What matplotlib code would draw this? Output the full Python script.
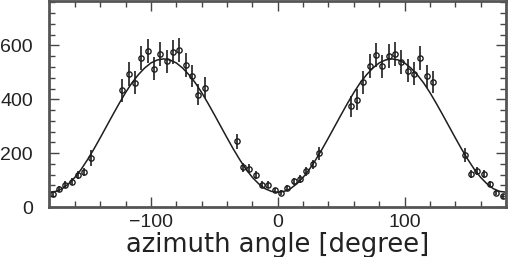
import matplotlib.pyplot as plt
import numpy as np

plt.rcParams['font.family'] = ['Liberation Sans', 'DejaVu Sans']

# measured points (azimuth bin centre, counts, error)
phi = [-177.5, -172.5, -167.5, -162.5, -157.5, -152.5, -147.5,
       -122.5, -117.5, -112.5, -107.5, -102.5, -97.5, -92.5, -87.5, -82.5,
       -77.5, -72.5, -67.5, -62.5, -57.5,
       -32.5, -27.5, -22.5, -17.5, -12.5, -7.5, -2.5, 2.5, 7.5, 12.5,
       17.5, 22.5, 27.5, 32.5,
       57.5, 62.5, 67.5, 72.5, 77.5, 82.5, 87.5, 92.5, 97.5, 102.5,
       107.5, 112.5, 117.5, 122.5,
       147.5, 152.5, 157.5, 162.5, 167.5, 172.5, 177.5]
counts = [47, 68, 83, 93, 118, 130, 182,
          433, 495, 462, 554, 578, 514, 569, 541, 575,
          584, 528, 486, 417, 443,
          244, 148, 142, 120, 83, 83, 62, 53, 71, 96,
          103, 132, 158, 200,
          374, 399, 463, 523, 564, 522, 560, 567, 538, 506,
          495, 552, 485, 464,
          193, 122, 134, 124, 85, 53, 40]
errors = [10, 11, 12, 13, 15, 16, 28,
          43, 45, 42, 45, 45, 42, 45, 43, 45,
          45, 44, 42, 40, 40,
          28, 17, 17, 15, 12, 12, 10, 10, 11, 13,
          14, 16, 18, 24,
          38, 40, 42, 44, 45, 43, 45, 45, 44, 42,
          42, 45, 42, 42,
          26, 15, 16, 15, 12, 10, 9]

# fitted curve every 5 degrees
fit_phi = list(range(-180, 185, 5))
fit_val = [55, 58, 68, 86, 110, 140, 176, 215, 257, 300, 343, 385, 425,
           461, 491, 516, 535, 546, 550, 546, 535, 516, 491, 461, 425, 385,
           343, 300, 257, 215, 176, 140, 110, 86, 68, 58,
           55,
           58, 68, 86, 110, 140, 176, 215, 257, 300, 343, 385, 425, 461,
           491, 516, 535, 546, 550, 546, 535, 516, 491, 461, 425, 385, 343,
           300, 257, 215, 176, 140, 110, 86, 68, 58, 55]

ink = '#1e1e1e'
fig = plt.figure(figsize=(5.1, 2.57), dpi=100)
ax = fig.add_axes([49.5/510, 50/257, 456.5/510, 206/257])

ax.plot(fit_phi, fit_val, '-', color=ink, lw=1.1)
ax.errorbar(phi, counts, yerr=errors, fmt='o', color=ink, ms=3.8,
            mfc='none', mew=1.0, elinewidth=1.2, capsize=0)

ax.set_xlim(-180, 180)
ax.set_ylim(0, 765)
ax.set_xticks([-100, 0, 100])
ax.set_xticks(np.arange(-160, 180, 20), minor=True)
ax.set_yticks([0, 200, 400, 600])
ax.set_yticks(np.arange(0, 765, 40), minor=True)
ax.tick_params(which='both', direction='in', top=True, right=True,
               color='#444444', width=1.0, labelsize=14, labelcolor='#222222')
ax.tick_params(which='major', length=7)
ax.tick_params(which='minor', length=4)
ax.tick_params(axis='y', pad=12)
ax.tick_params(axis='x', pad=5)
for s in ax.spines.values():
    s.set_color('#555555')
    s.set_linewidth(2)

ax.set_xlabel('azimuth angle [degree]', fontsize=18.5, color='#222222',
              labelpad=1, family='DejaVu Sans')

plt.savefig('out.png', dpi=100)
